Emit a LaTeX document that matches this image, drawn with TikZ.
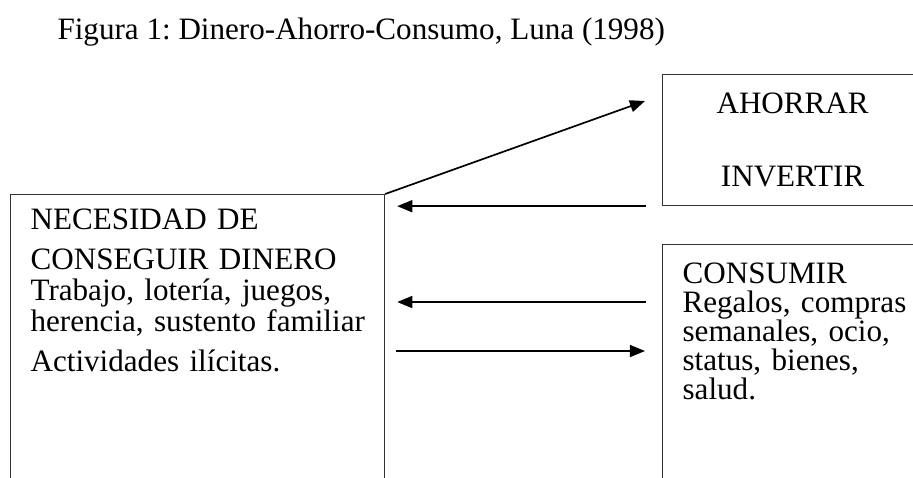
\documentclass[tikz,border=0pt]{standalone}
\usepackage{fontspec}
\setmainfont{Liberation Serif}
\usetikzlibrary{arrows.meta, positioning}
\frenchspacing

\begin{document}
\begin{tikzpicture}[font=\fontsize{11.95}{11.9}\selectfont,
            blk/.style={draw=black!80, line width=0.45pt, align=left,
                        anchor=north west, inner xsep=0.27cm, text height=7.8pt},
            arr/.style={-{Triangle[length=5.8pt, width=4.6pt]}, line width=0.65pt}]
            \useasboundingbox (0,0) rectangle (12.3255,-6.4395);
            \clip (0,0) rectangle (12.3255,-6.4395);
            \node[anchor=base west, inner sep=0pt] (titulo)
              at (0.7695,-0.5265) {Figura 1: Dinero-Ahorro-Consumo, Luna (1998)};
            \node[blk, text width=4.509cm, inner ysep=0.2cm, text depth=4cm] (dinero)
              at (0.135,-2.619) {NECESIDAD DE\\[3.4pt]CONSEGUIR DINERO\\Trabajo, lotería, juegos,\\\mbox{herencia, sustento familiar}\\[3.6pt]Actividades ilícitas.};
            \node[blk, align=center, text width=2.97cm, minimum height=1.7685cm] (ahorro)
              at (8.937,-0.999) {AHORRAR\\[16.1pt]INVERTIR};
            \node[blk, text width=3.2cm, inner ysep=0.2565cm, text depth=3cm,
                  font=\fontsize{11.95}{11.1}\selectfont] (consumo)
              at (8.937,-3.294) {CONSUMIR\\Regalos, compras\\semanales, ocio,\\status, bienes,\\salud.};
            % free ends of the arrows
            \coordinate[below left=0.3645cm and 0.2295cm of ahorro.north west] (inv);
            \coordinate[below=1.458cm of dinero.north east] (vuelta);
            \coordinate[below=2.1195cm of dinero.north east] (gasto);
            \draw[arr] (dinero.north east) -- (inv);
            \draw[arr, shorten <=0.216cm, shorten >=0.162cm]
              (ahorro.south west) -- (ahorro.south west -| dinero.east);
            \draw[arr, shorten <=0.216cm, shorten >=0.162cm]
              (vuelta -| consumo.west) -- (vuelta);
            \draw[arr, shorten <=0.1485cm, shorten >=0.2295cm]
              (gasto) -- (gasto -| consumo.west);
          \end{tikzpicture}
\end{document}
